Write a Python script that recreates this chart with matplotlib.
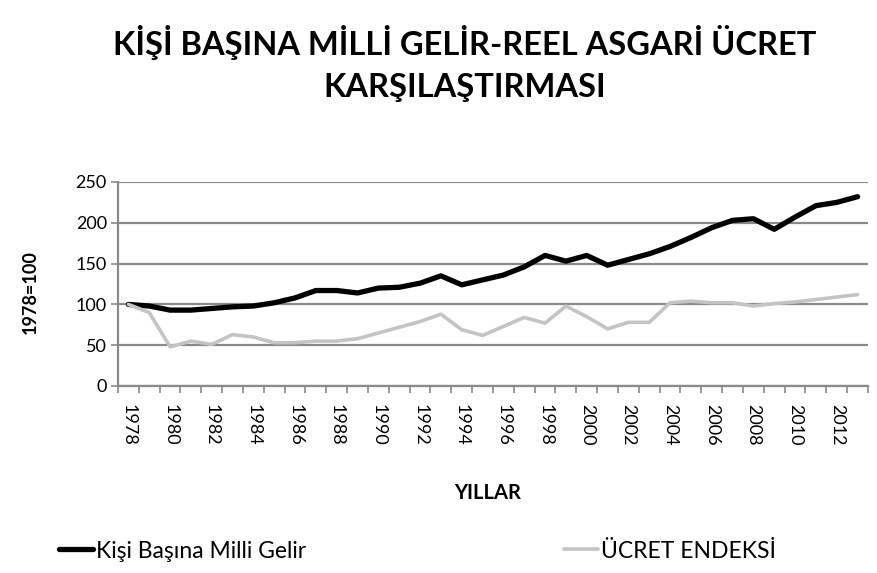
import numpy as np
import matplotlib
matplotlib.use("Agg")
import matplotlib.pyplot as plt

plt.rcParams['font.family'] = ['Lato', 'DejaVu Sans']

# Data (1978=100)
years = list(range(1978, 2014))
milli_gelir = [100, 98, 93, 93, 95, 97, 98, 102, 108, 117,
               117, 114, 120, 121, 126, 135, 124, 130, 136, 146,
               160, 153, 160, 148, 155, 162, 171, 182, 194, 203,
               205, 192, 207, 221, 225, 232]
ucret_endeksi = [100, 90, 48, 55, 51, 63, 60, 53, 53, 55,
                 55, 58, 65, 72, 79, 88, 69, 62, 73, 84,
                 77, 98, 85, 70, 78, 78, 102, 104, 102, 102,
                 98, 101, 103, 106, 109, 112]

fig = plt.figure(figsize=(8.78, 5.73), dpi=100)
ax = fig.add_axes([118 / 878, 1 - 386 / 573, 750 / 878, 204 / 573])

x = np.arange(len(years))
ax.plot(x, milli_gelir, color='black', lw=3.8, solid_capstyle='round',
        label='Kişi Başına Milli Gelir', zorder=3)
ax.plot(x, ucret_endeksi, color='#c4c4c4', lw=2.6, solid_capstyle='round',
        label='ÜCRET ENDEKSİ', zorder=3)

ax.set_xlim(-0.5, len(years) - 0.5)
ax.set_ylim(0, 250)
ax.set_yticks(range(0, 251, 50))
ax.yaxis.grid(True, color='#8a8a8a', lw=1.6)
ax.set_axisbelow(True)

ax.set_xticks(x[::2])
ax.set_xticklabels([str(y) for y in years[::2]], rotation=-90, fontsize=13)
ax.set_xticks(np.arange(-0.5, len(years), 1), minor=True)
ax.tick_params(axis='x', which='major', length=0, pad=13)
ax.tick_params(axis='x', which='minor', length=5, color='#8a8a8a', width=1.2)
ax.tick_params(axis='y', length=5, color='#8a8a8a', width=1.2, labelsize=13, pad=3)

for s in ['top', 'right']:
    ax.spines[s].set_visible(False)
for s in ['left', 'bottom']:
    ax.spines[s].set_color('#8a8a8a')
    ax.spines[s].set_linewidth(1.6)

fig.text(30 / 878, 1 - 292 / 573, '1978=100', rotation=90, ha='center', va='center',
         fontsize=13, fontweight='bold')
fig.text(488 / 878, 1 - 493 / 573, 'YILLAR', ha='center', va='center',
         fontsize=14.5, fontweight='bold')
fig.text(465 / 878, 1 - 42 / 573, 'KİŞİ BAŞINA MİLLİ GELİR-REEL ASGARİ ÜCRET',
         ha='center', va='center', fontsize=23.5, fontweight='bold')
fig.text(465 / 878, 1 - 88 / 573, 'KARŞILAŞTIRMASI',
         ha='center', va='center', fontsize=23.5, fontweight='bold')

h, l = ax.get_legend_handles_labels()
fig.legend(h[:1], l[:1], loc='center left', bbox_to_anchor=(38 / 878, 1 - 551 / 573),
           frameon=False, fontsize=16.5, handlelength=1.5, handletextpad=0.15)
fig.legend(h[1:], l[1:], loc='center left', bbox_to_anchor=(543 / 878, 1 - 551 / 573),
           frameon=False, fontsize=16.5, handlelength=1.5, handletextpad=0.15)

fig.savefig('out.png', dpi=100)
